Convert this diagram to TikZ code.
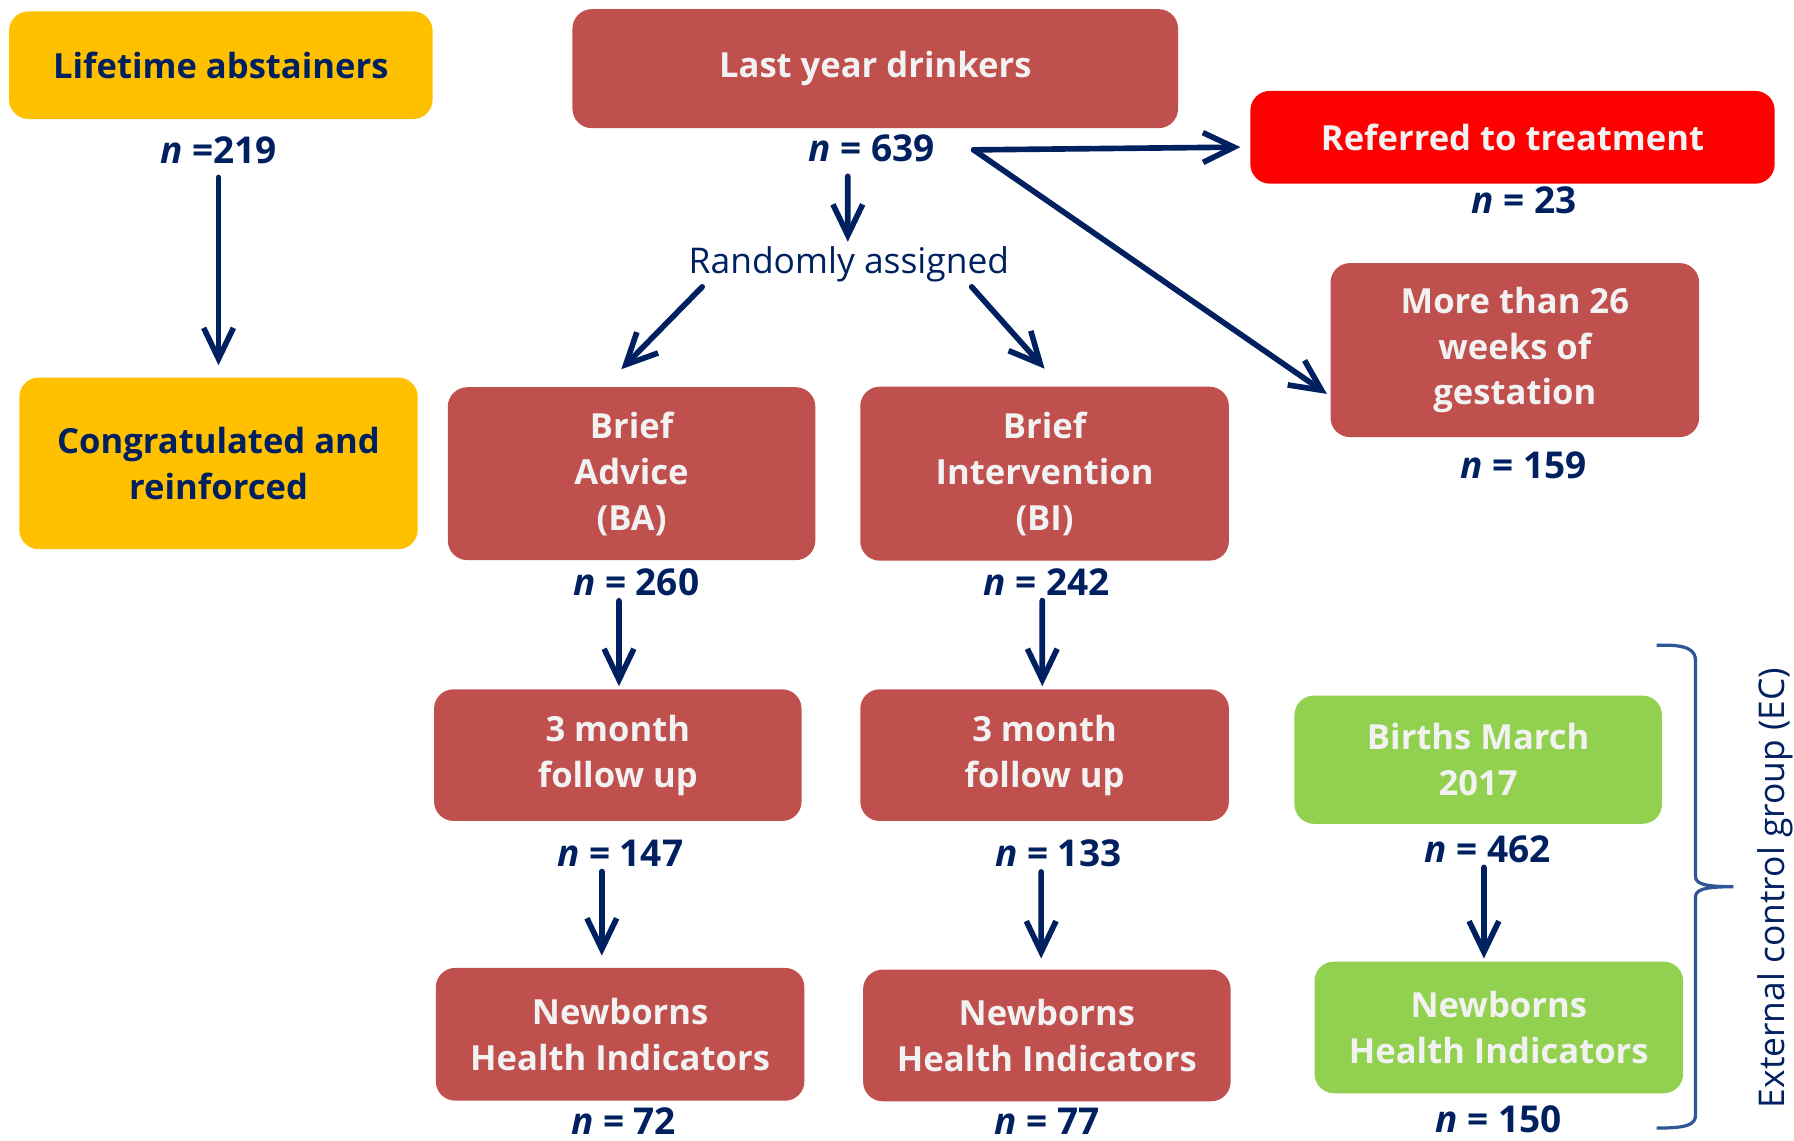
\documentclass[tikz,border=0pt]{standalone}
\usepackage{fontspec}
\setmainfont{Open Sans}
\usetikzlibrary{arrows.meta}

\definecolor{navy}{RGB}{0,32,96}
\definecolor{gold}{RGB}{255,192,0}
\definecolor{drinkred}{RGB}{192,80,77}
\definecolor{alarmred}{RGB}{255,0,0}
\definecolor{births}{RGB}{146,208,80}
\definecolor{boxtext}{RGB}{242,242,242}
\definecolor{bracecol}{RGB}{47,85,151}

\begin{document}
\begin{tikzpicture}[x=0.01cm,y=-0.01cm,
	box/.style={rectangle,rounded corners=0.17cm,align=center,inner sep=0pt,
		font=\fontsize{8.6}{11.4}\selectfont\bfseries},
	goldbox/.style={box,fill=gold,text=navy},
	drinkbox/.style={box,fill=drinkred,text=boxtext},
	alarmbox/.style={box,fill=alarmred,text=boxtext},
	greenbox/.style={box,fill=births,text=boxtext},
	nlab/.style={text=navy,inner sep=1pt,font=\fontsize{9.2}{11}\selectfont\bfseries},
	plain/.style={text=navy,inner sep=1pt,font=\fontsize{8.8}{10}\selectfont},
	arr/.style={draw=navy,line width=1.4pt,line cap=round,
		-{Straight Barb[length=2.7mm,width=2.6mm]}}]
	\useasboundingbox (0,0) rectangle (1568,997);

	% left column
	\node[goldbox,minimum width=3.70cm,minimum height=0.94cm] (life) at (193,57) {Lifetime abstainers};
	\node[nlab] (n219) at (191,131) {\textit{n} =219};
	\node[goldbox,minimum width=3.48cm,minimum height=1.50cm] (congr) at (191,405) {Congratulated and\\reinforced};

	% top row
	\node[drinkbox,minimum width=5.29cm,minimum height=1.04cm] (lastyr) at (765,60) {Last year drinkers};
	\node[nlab] (n639) at (762,130) {\textit{n} = 639};
	\coordinate (fork) at (851,131);
	\node[alarmbox,minimum width=4.58cm,minimum height=0.81cm] (referred) at (1322,120) {Referred to treatment};
	\node[nlab] (n23) at (1332,175) {\textit{n} = 23};
	\node[drinkbox,minimum width=3.22cm,minimum height=1.52cm] (more26) at (1324,306) {More than 26\\weeks of\\gestation};
	\node[nlab] (n159) at (1332,407) {\textit{n} = 159};
	\node[plain] (random) at (742,231) {Randomly assigned};

	% trial arms
	\node[drinkbox,minimum width=3.21cm,minimum height=1.51cm] (ba) at (552,414) {Brief\\Advice\\(BA)};
	\node[nlab] (n260) at (556,509) {\textit{n} = 260};
	\node[drinkbox,minimum width=3.22cm,minimum height=1.52cm] (bi) at (913,414) {Brief\\Intervention\\(BI)};
	\node[nlab] (n242) at (915,509) {\textit{n} = 242};
	\node[drinkbox,minimum width=3.21cm,minimum height=1.15cm] (fuba) at (540,660) {3 month\\follow up};
	\node[nlab] (n147) at (542,746) {\textit{n} = 147};
	\node[drinkbox,minimum width=3.22cm,minimum height=1.15cm] (fubi) at (913,660) {3 month\\follow up};
	\node[nlab] (n133) at (925,746) {\textit{n} = 133};
	\node[drinkbox,minimum width=3.22cm,minimum height=1.16cm] (nhba) at (542,904) {Newborns\\Health Indicators};
	\node[nlab] (n72) at (545,980) {\textit{n} = 72};
	\node[drinkbox,minimum width=3.21cm,minimum height=1.15cm] (nhbi) at (915,905) {Newborns\\Health Indicators};
	\node[nlab] (n77) at (915,980) {\textit{n} = 77};

	% external control
	\node[greenbox,minimum width=3.21cm,minimum height=1.12cm] (births) at (1292,664) {Births March\\2017};
	\node[nlab] (n462) at (1300,742) {\textit{n} = 462};
	\node[greenbox,minimum width=3.22cm,minimum height=1.15cm] (nhec) at (1310,898) {Newborns\\Health Indicators};
	\node[nlab] (n150) at (1310,978) {\textit{n} = 150};
	\node[plain,rotate=90] (ectext) at (1552,776) {External control group (EC)};
	\draw[bracecol,line width=0.8pt] (1448,564) .. controls (1475,563) and (1482,568) .. (1482,578)
		-- (1482,766) .. controls (1482,772) and (1488,775) .. (1515,775)
		.. controls (1488,775) and (1482,778) .. (1482,784)
		-- (1482,974) .. controls (1482,983) and (1475,986) .. (1448,986);

	% arrows
	\draw[arr,shorten <=0.08cm,shorten >=0.1cm] (n219) -- (congr);
	\draw[arr,shorten <=0.08cm] ([xshift=-0.21cm]n639.south) -- ([xshift=-0.01cm]random.north);
	\draw[arr] ([xshift=0.16cm]random.south west) -- ([xshift=-0.09cm,yshift=0.15cm]ba.north);
	\draw[arr] ([xshift=-0.37cm]random.south east) -- ([yshift=0.15cm]bi.north);
	\draw[arr,shorten >=0.08cm] (fork) -- ([yshift=-0.085cm]referred.west);
	\draw[arr,shorten >=0.03cm] (fork) -- ([yshift=-0.4cm]more26.west);
	\draw[arr,shorten >=0.02cm] ([xshift=-0.15cm]n260.south) -- ([xshift=0.01cm]fuba.north);
	\draw[arr,shorten >=0.02cm] ([xshift=-0.04cm]n242.south) -- ([xshift=-0.02cm]fubi.north);
	\draw[arr,shorten >=0.1cm] ([xshift=-0.16cm]n147.south) -- ([xshift=-0.16cm]nhba.north);
	\draw[arr,shorten >=0.09cm] ([xshift=-0.15cm]n133.south) -- ([xshift=-0.05cm]nhbi.north);
	\draw[arr,shorten >=0.02cm] ([xshift=-0.03cm]n462.south) -- ([xshift=-0.13cm]nhec.north);
\end{tikzpicture}
\end{document}
